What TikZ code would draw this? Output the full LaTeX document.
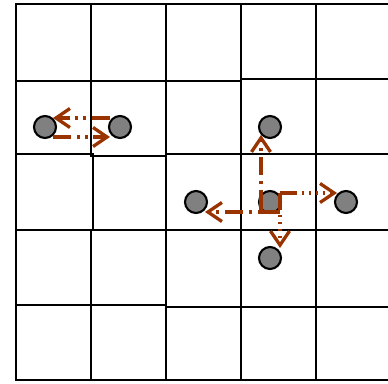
\documentclass[tikz,border=0pt]{standalone}
\usetikzlibrary{arrows.meta,calc}
\definecolor{arrowc}{RGB}{153,51,0}
\definecolor{ballc}{RGB}{128,128,128}
\begin{document}
\begin{tikzpicture}[x=1pt,y=-1pt,
  gridline/.style={line width=2.6pt,black,line cap=rect},
  ball/.style={circle,draw=black,line width=2.1pt,fill=ballc,minimum size=22pt,inner sep=0pt},
  mv/.style={line width=3.3pt,draw=arrowc,-{Straight Barb[length=14pt,width=19pt]}},
  dashdotdot/.style={dash pattern=on 18pt off 6pt on 3pt off 5pt on 3pt off 5pt},
  dashdotA/.style={dash pattern=on 22pt off 6pt on 3pt off 6pt on 18pt off 6pt on 3pt off 6pt},
  dottedA/.style={dash pattern=on 17pt off 5pt on 2pt off 5pt on 2pt off 5pt on 2pt off 5pt on 2pt off 5pt on 2pt off 5pt}]
\useasboundingbox (0,0) rectangle (388,383);
\begin{scope}
\clip (0,0) rectangle (388,383);
% verticals
\draw[gridline] (16,4) -- (16,380);
\draw[gridline] (91,4) -- (91,154);
\draw[gridline] (93,154) -- (93,230);
\draw[gridline] (91,230) -- (91,380);
\draw[gridline] (166,4) -- (166,380);
\draw[gridline] (241,4) -- (241,380);
\draw[gridline] (316,4) -- (316,380);
% horizontals
\draw[gridline] (16,4) -- (395,4);
\draw[gridline] (16,81) -- (241,81);
\draw[gridline] (241,79) -- (395,79);
\draw[gridline] (16,154) -- (91,154);
\draw[gridline] (91,156) -- (166,156);
\draw[gridline] (166,154) -- (395,154);
\draw[gridline] (16,230) -- (395,230);
\draw[gridline] (16,305) -- (166,305);
\draw[gridline] (166,307) -- (395,307);
\draw[gridline] (16,380) -- (395,380);
\end{scope}
% balls
\node[ball] (a) at (45,127) {};
\node[ball] (b) at (120,127) {};
\node[ball] (u) at (270,127) {};
\node[ball] (l) at (196,202) {};
\node[ball] (c) at (270,202) {};
\node[ball] (r) at (346,202) {};
\node[ball] (d) at (270,258) {};
% moves
\draw[mv,dashdotdot] ($(b.center)+(-10,-9)$) -- ($(a.center)+(8,-9)$);
\draw[mv,dashdotdot] ($(a.center)+(8,10)$) -- ($(b.center)+(-10,10)$);
\draw[mv,dashdotA] ($(c.center)+(-9,10)$) -- ($(u.center)+(-9,8)$);
\draw[mv,dashdotA] ($(c.center)+(10,10)$) -- ($(l.center)+(9,10)$);
\draw[mv,dottedA] ($(c.center)+(10,-9)$) -- ($(r.center)+(-9,-9)$);
\draw[mv,dottedA] ($(c.center)+(10,-9)$) -- ($(d.center)+(10,-10)$);
\end{tikzpicture}
\end{document}
